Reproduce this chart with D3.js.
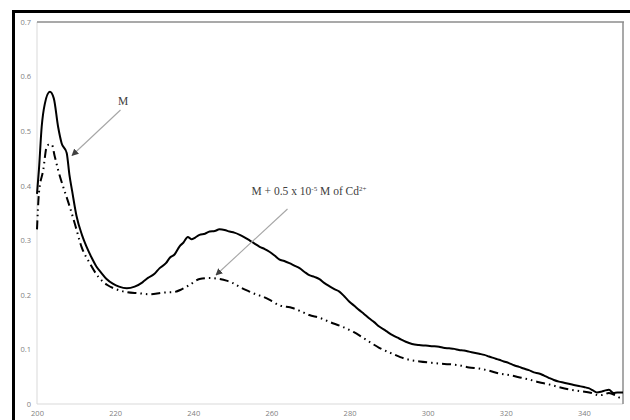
<!DOCTYPE html>
<html>
<head>
<meta charset="utf-8">
<script src="https://cdn.jsdelivr.net/npm/d3@7"></script>
<style>
  html, body { margin: 0; padding: 0; background: #fff; }
  svg { display: block; }
</style>
</head>
<body>
<svg id="chart" width="630" height="420"></svg>
<script>
// Absorption spectrum of M (solid)
const mWavelength = [200,200.5,201.2,202,203.3,204.3,205.4,206.3,207.6,208.3,209,210.1,211.5,212.7,214,215.2,216.5,217.8,219.5,221,223,225,227,228.4,230,231.4,233,234,235.2,236.5,237.5,238.6,239.5,240.5,241.6,243,244.2,245.5,246.7,248,249.3,250.5,251.9,253,254.4,255.7,257,258.3,259.5,260.8,262,263.3,264.6,266,267.2,268.5,269.7,271,272.3,273.5,274.8,276,277.4,278.7,279.9,281.2,282.5,283.7,285,286.3,287.6,289.3,291,292.7,294.4,296,297.8,299.5,301,302.9,304,305.5,306.8,308,309.3,310.6,311.9,313.2,314.5,315.7,317,318.3,319.5,320.8,322.1,323.4,324.6,325.9,327.2,328.5,329.8,331,332.3,333.6,334.9,336.1,337.4,338.7,340,341.2,342.3,343.3,344.6,345.5,346.4,347.6,348.5,350];
const mAbsorbance = [0.385,0.43,0.508,0.55,0.572,0.56,0.508,0.478,0.46,0.42,0.39,0.345,0.31,0.288,0.268,0.252,0.24,0.229,0.22,0.215,0.212,0.215,0.223,0.231,0.238,0.249,0.258,0.268,0.274,0.289,0.296,0.306,0.302,0.305,0.310,0.312,0.316,0.317,0.320,0.319,0.316,0.314,0.310,0.306,0.300,0.294,0.288,0.284,0.279,0.272,0.265,0.262,0.258,0.253,0.249,0.242,0.236,0.233,0.229,0.222,0.216,0.211,0.206,0.197,0.188,0.180,0.172,0.165,0.157,0.150,0.142,0.134,0.126,0.120,0.114,0.110,0.108,0.107,0.106,0.105,0.103,0.102,0.101,0.099,0.098,0.096,0.094,0.092,0.090,0.087,0.084,0.081,0.078,0.075,0.071,0.068,0.065,0.062,0.058,0.056,0.052,0.048,0.044,0.041,0.039,0.037,0.035,0.033,0.031,0.029,0.025,0.021,0.023,0.025,0.026,0.020,0.021,0.021];

// Absorption spectrum of M with Cd2+ added (dash-dot-dot)
const cdWavelength = [200,200.5,201.6,202.5,203,203.8,204.5,205.4,206.7,208,209.7,211.4,213.5,215.7,218,220,223,226,229,232,235,237,239,241.6,244,246.7,248.5,250,252,254.4,256,257.7,260,262,265.4,267.5,269.7,272.3,275,278,281,284,287.6,291,293,295.3,298,300.4,303,305.5,308,310.6,313.2,315.7,318.3,321.6,324,325.9,328.5,331,333.6,336,338.7,342,343.8,345,346.4,348,349,350];
const cdAbsorbance = [0.320,0.387,0.429,0.472,0.475,0.475,0.455,0.429,0.398,0.370,0.330,0.288,0.258,0.233,0.218,0.211,0.205,0.203,0.201,0.204,0.205,0.210,0.218,0.229,0.231,0.229,0.226,0.222,0.214,0.206,0.201,0.197,0.189,0.181,0.176,0.170,0.163,0.158,0.150,0.142,0.132,0.119,0.103,0.092,0.086,0.081,0.078,0.076,0.074,0.073,0.071,0.067,0.065,0.061,0.056,0.052,0.048,0.045,0.040,0.036,0.031,0.027,0.024,0.020,0.016,0.017,0.020,0.016,0.012,0.010];

const xTicks = [200,220,240,260,280,300,320,340];
const yTicks = [0,0.1,0.2,0.3,0.4,0.5,0.6,0.7];

const svg = d3.select("#chart");

const plot = { left: 37, right: 623, top: 22, bottom: 404 };
const x = d3.scaleLinear().domain([200, 350]).range([plot.left, plot.right]);
const y = d3.scaleLinear().domain([0, 0.7]).range([plot.bottom, plot.top]);

// outer frame (left and top edges)
svg.append("line").attr("x1", 13.5).attr("x2", 13.5).attr("y1", 10).attr("y2", 420)
  .attr("stroke", "#000").attr("stroke-width", 3);
svg.append("line").attr("x1", 12).attr("x2", 630).attr("y1", 11.5).attr("y2", 11.5)
  .attr("stroke", "#000").attr("stroke-width", 3);

// plot area borders
svg.append("line").attr("x1", plot.left).attr("x2", plot.left).attr("y1", plot.top).attr("y2", plot.bottom)
  .attr("stroke", "#d9d9d9").attr("stroke-width", 1);
svg.append("line").attr("x1", plot.left).attr("x2", plot.right).attr("y1", plot.bottom).attr("y2", plot.bottom)
  .attr("stroke", "#d9d9d9").attr("stroke-width", 1);
svg.append("line").attr("x1", plot.left).attr("x2", plot.right + 1).attr("y1", plot.top).attr("y2", plot.top)
  .attr("stroke", "#8c8c8c").attr("stroke-width", 1.5);
svg.append("line").attr("x1", plot.right).attr("x2", plot.right).attr("y1", plot.top).attr("y2", plot.bottom)
  .attr("stroke", "#8c8c8c").attr("stroke-width", 1.5);

// axes
const tickFont = "'Open Sans', 'Liberation Sans', sans-serif";
const xAxis = svg.append("g").attr("transform", `translate(0,${plot.bottom})`)
  .call(d3.axisBottom(x).tickValues(xTicks).tickSize(0).tickPadding(7).tickFormat(d3.format("d")));
const yAxis = svg.append("g").attr("transform", `translate(${plot.left},0)`)
  .call(d3.axisLeft(y).tickValues(yTicks).tickSize(0).tickPadding(6).tickFormat(d => d === 0 ? "0" : d3.format(".1f")(d)));
[xAxis, yAxis].forEach(g => {
  g.select(".domain").remove();
  g.selectAll("text").attr("fill", "#7f7f7f").style("font-size", "7.5px").style("font-family", tickFont);
});

// spectra
const lineGen = d3.line().x(d => x(d[0])).y(d => y(d[1])).curve(d3.curveMonotoneX);

svg.append("path")
  .datum(cdWavelength.map((w, i) => [w, cdAbsorbance[i]]))
  .attr("d", lineGen)
  .attr("fill", "none").attr("stroke", "#000").attr("stroke-width", 2)
  .attr("stroke-dasharray", "9,4,1.5,4,1.5,4");

svg.append("path")
  .datum(mWavelength.map((w, i) => [w, mAbsorbance[i]]))
  .attr("d", lineGen)
  .attr("fill", "none").attr("stroke", "#000").attr("stroke-width", 2);

// annotation arrows
const defs = svg.append("defs");
defs.append("marker").attr("id", "arrowHead")
  .attr("viewBox", "0 0 10 10").attr("refX", 9).attr("refY", 5)
  .attr("markerWidth", 7).attr("markerHeight", 7).attr("orient", "auto")
  .attr("markerUnits", "userSpaceOnUse")
  .append("path").attr("d", "M0,0 L10,5 L0,10 Z").attr("fill", "#404040");

svg.append("line").attr("x1", 120.5).attr("y1", 110).attr("x2", 72).attr("y2", 155.5)
  .attr("stroke", "#a6a6a6").attr("stroke-width", 1.1).attr("marker-end", "url(#arrowHead)");
svg.append("line").attr("x1", 287.5).attr("y1", 209).attr("x2", 216).attr("y2", 275)
  .attr("stroke", "#a6a6a6").attr("stroke-width", 1.1).attr("marker-end", "url(#arrowHead)");

// annotation labels
const serif = "'Liberation Serif', 'DejaVu Serif', serif";
svg.append("text").attr("x", 123).attr("y", 104.5).attr("text-anchor", "middle")
  .style("font-family", serif).style("font-size", "11.5px").attr("fill", "#404040").text("M");

const lbl = svg.append("text").attr("x", 251.5).attr("y", 194.5)
  .style("font-family", serif).style("font-size", "11.5px").attr("fill", "#404040");
lbl.append("tspan").text("M + 0.5 x 10");
lbl.append("tspan").attr("dy", -4).style("font-size", "7px").text("-5");
lbl.append("tspan").attr("dy", 4).text(" M of Cd");
lbl.append("tspan").attr("dy", -4).style("font-size", "7px").text("2+");
</script>
</body>
</html>
